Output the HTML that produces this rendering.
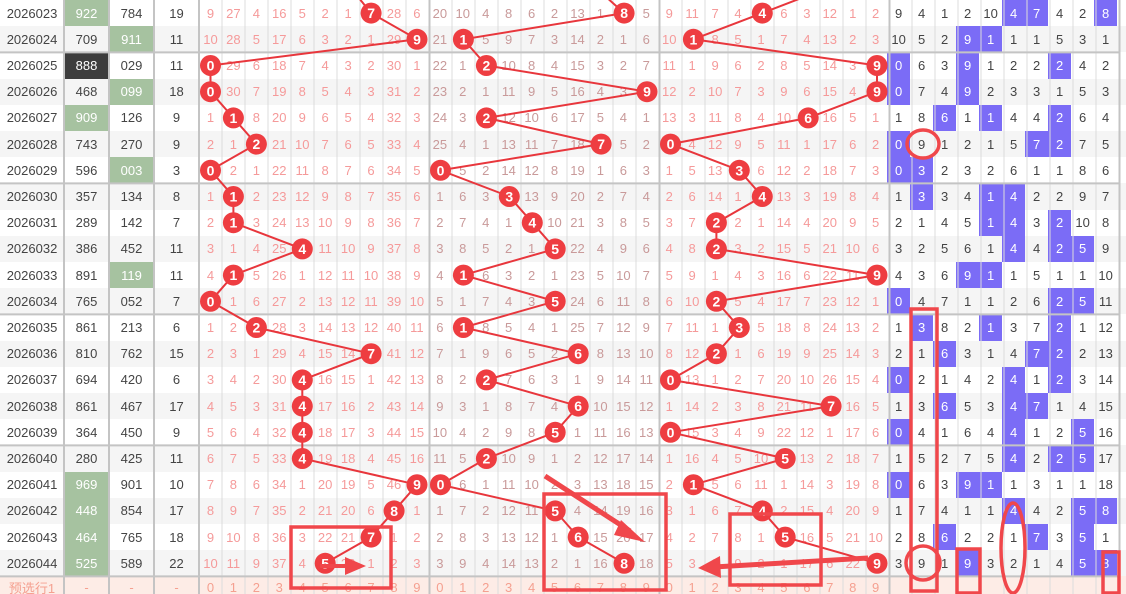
<!DOCTYPE html>
<html><head><meta charset="utf-8"><style>
body{margin:0;background:#fff}
#w{position:relative;width:1126px;height:594px;overflow:hidden;font-family:"Liberation Sans","Noto Sans CJK SC",sans-serif}
.r{position:absolute;left:0;width:1126px;height:26.2px;display:grid;grid-template-columns:64px 45px 45px 45px repeat(30,22.95px) repeat(10,23px)}
.r.o{background:#f5f5f5}
.r>i{font-style:normal;display:flex;align-items:center;justify-content:center;font-size:13px;color:#444;height:26.2px}
.r>i:nth-child(n+5){color:#f59a9a}
.r>i:nth-child(n+15):nth-child(-n+24){color:#c99a9a}
.r>i:nth-child(n+35){color:#444}
.r>i.p{background:#7b6cf6;color:#fff}
.r>i.g{background:#a6c2a0;color:#fff}
.r>i.k{background:#3d3d3d;color:#fff}
.pv{background:#fdece6;height:18px}
.pv>i{height:22px!important;color:#f5a090!important}
svg{position:absolute;left:0;top:0}
</style></head><body><div id="w">
<div class="r" style="top:0px"><i>2026023</i><i class="g">922</i><i>784</i><i>19</i><i>9</i><i>27</i><i>4</i><i>16</i><i>5</i><i>2</i><i>1</i><i></i><i>28</i><i>6</i><i>20</i><i>10</i><i>4</i><i>8</i><i>6</i><i>2</i><i>13</i><i>1</i><i></i><i>5</i><i>9</i><i>11</i><i>7</i><i>4</i><i></i><i>6</i><i>3</i><i>12</i><i>1</i><i>2</i><i>9</i><i>4</i><i>1</i><i>2</i><i>10</i><i class="p">4</i><i class="p">7</i><i>4</i><i>2</i><i class="p">8</i></div>
<div class="r o" style="top:26.2px"><i>2026024</i><i>709</i><i class="g">911</i><i>11</i><i>10</i><i>28</i><i>5</i><i>17</i><i>6</i><i>3</i><i>2</i><i>1</i><i>29</i><i></i><i>21</i><i></i><i>5</i><i>9</i><i>7</i><i>3</i><i>14</i><i>2</i><i>1</i><i>6</i><i>10</i><i></i><i>8</i><i>5</i><i>1</i><i>7</i><i>4</i><i>13</i><i>2</i><i>3</i><i>10</i><i>5</i><i>2</i><i class="p">9</i><i class="p">1</i><i>1</i><i>1</i><i>5</i><i>3</i><i>1</i></div>
<div class="r" style="top:52.4px"><i>2026025</i><i class="k">888</i><i>029</i><i>11</i><i></i><i>29</i><i>6</i><i>18</i><i>7</i><i>4</i><i>3</i><i>2</i><i>30</i><i>1</i><i>22</i><i>1</i><i></i><i>10</i><i>8</i><i>4</i><i>15</i><i>3</i><i>2</i><i>7</i><i>11</i><i>1</i><i>9</i><i>6</i><i>2</i><i>8</i><i>5</i><i>14</i><i>3</i><i></i><i class="p">0</i><i>6</i><i>3</i><i class="p">9</i><i>1</i><i>2</i><i>2</i><i class="p">2</i><i>4</i><i>2</i></div>
<div class="r o" style="top:78.6px"><i>2026026</i><i>468</i><i class="g">099</i><i>18</i><i></i><i>30</i><i>7</i><i>19</i><i>8</i><i>5</i><i>4</i><i>3</i><i>31</i><i>2</i><i>23</i><i>2</i><i>1</i><i>11</i><i>9</i><i>5</i><i>16</i><i>4</i><i>3</i><i></i><i>12</i><i>2</i><i>10</i><i>7</i><i>3</i><i>9</i><i>6</i><i>15</i><i>4</i><i></i><i class="p">0</i><i>7</i><i>4</i><i class="p">9</i><i>2</i><i>3</i><i>3</i><i>1</i><i>5</i><i>3</i></div>
<div class="r" style="top:104.8px"><i>2026027</i><i class="g">909</i><i>126</i><i>9</i><i>1</i><i></i><i>8</i><i>20</i><i>9</i><i>6</i><i>5</i><i>4</i><i>32</i><i>3</i><i>24</i><i>3</i><i></i><i>12</i><i>10</i><i>6</i><i>17</i><i>5</i><i>4</i><i>1</i><i>13</i><i>3</i><i>11</i><i>8</i><i>4</i><i>10</i><i></i><i>16</i><i>5</i><i>1</i><i>1</i><i>8</i><i class="p">6</i><i>1</i><i class="p">1</i><i>4</i><i>4</i><i class="p">2</i><i>6</i><i>4</i></div>
<div class="r o" style="top:131px"><i>2026028</i><i>743</i><i>270</i><i>9</i><i>2</i><i>1</i><i></i><i>21</i><i>10</i><i>7</i><i>6</i><i>5</i><i>33</i><i>4</i><i>25</i><i>4</i><i>1</i><i>13</i><i>11</i><i>7</i><i>18</i><i></i><i>5</i><i>2</i><i></i><i>4</i><i>12</i><i>9</i><i>5</i><i>11</i><i>1</i><i>17</i><i>6</i><i>2</i><i class="p">0</i><i>9</i><i>1</i><i>2</i><i>1</i><i>5</i><i class="p">7</i><i class="p">2</i><i>7</i><i>5</i></div>
<div class="r" style="top:157.2px"><i>2026029</i><i>596</i><i class="g">003</i><i>3</i><i></i><i>2</i><i>1</i><i>22</i><i>11</i><i>8</i><i>7</i><i>6</i><i>34</i><i>5</i><i></i><i>5</i><i>2</i><i>14</i><i>12</i><i>8</i><i>19</i><i>1</i><i>6</i><i>3</i><i>1</i><i>5</i><i>13</i><i></i><i>6</i><i>12</i><i>2</i><i>18</i><i>7</i><i>3</i><i class="p">0</i><i class="p">3</i><i>2</i><i>3</i><i>2</i><i>6</i><i>1</i><i>1</i><i>8</i><i>6</i></div>
<div class="r o" style="top:183.4px"><i>2026030</i><i>357</i><i>134</i><i>8</i><i>1</i><i></i><i>2</i><i>23</i><i>12</i><i>9</i><i>8</i><i>7</i><i>35</i><i>6</i><i>1</i><i>6</i><i>3</i><i></i><i>13</i><i>9</i><i>20</i><i>2</i><i>7</i><i>4</i><i>2</i><i>6</i><i>14</i><i>1</i><i></i><i>13</i><i>3</i><i>19</i><i>8</i><i>4</i><i>1</i><i class="p">3</i><i>3</i><i>4</i><i class="p">1</i><i class="p">4</i><i>2</i><i>2</i><i>9</i><i>7</i></div>
<div class="r" style="top:209.6px"><i>2026031</i><i>289</i><i>142</i><i>7</i><i>2</i><i></i><i>3</i><i>24</i><i>13</i><i>10</i><i>9</i><i>8</i><i>36</i><i>7</i><i>2</i><i>7</i><i>4</i><i>1</i><i></i><i>10</i><i>21</i><i>3</i><i>8</i><i>5</i><i>3</i><i>7</i><i></i><i>2</i><i>1</i><i>14</i><i>4</i><i>20</i><i>9</i><i>5</i><i>2</i><i>1</i><i>4</i><i>5</i><i class="p">1</i><i class="p">4</i><i>3</i><i class="p">2</i><i>10</i><i>8</i></div>
<div class="r o" style="top:235.8px"><i>2026032</i><i>386</i><i>452</i><i>11</i><i>3</i><i>1</i><i>4</i><i>25</i><i></i><i>11</i><i>10</i><i>9</i><i>37</i><i>8</i><i>3</i><i>8</i><i>5</i><i>2</i><i>1</i><i></i><i>22</i><i>4</i><i>9</i><i>6</i><i>4</i><i>8</i><i></i><i>3</i><i>2</i><i>15</i><i>5</i><i>21</i><i>10</i><i>6</i><i>3</i><i>2</i><i>5</i><i>6</i><i>1</i><i class="p">4</i><i>4</i><i class="p">2</i><i class="p">5</i><i>9</i></div>
<div class="r" style="top:262px"><i>2026033</i><i>891</i><i class="g">119</i><i>11</i><i>4</i><i></i><i>5</i><i>26</i><i>1</i><i>12</i><i>11</i><i>10</i><i>38</i><i>9</i><i>4</i><i></i><i>6</i><i>3</i><i>2</i><i>1</i><i>23</i><i>5</i><i>10</i><i>7</i><i>5</i><i>9</i><i>1</i><i>4</i><i>3</i><i>16</i><i>6</i><i>22</i><i>11</i><i></i><i>4</i><i>3</i><i>6</i><i class="p">9</i><i class="p">1</i><i>1</i><i>5</i><i>1</i><i>1</i><i>10</i></div>
<div class="r o" style="top:288.2px"><i>2026034</i><i>765</i><i>052</i><i>7</i><i></i><i>1</i><i>6</i><i>27</i><i>2</i><i>13</i><i>12</i><i>11</i><i>39</i><i>10</i><i>5</i><i>1</i><i>7</i><i>4</i><i>3</i><i></i><i>24</i><i>6</i><i>11</i><i>8</i><i>6</i><i>10</i><i></i><i>5</i><i>4</i><i>17</i><i>7</i><i>23</i><i>12</i><i>1</i><i class="p">0</i><i>4</i><i>7</i><i>1</i><i>1</i><i>2</i><i>6</i><i class="p">2</i><i class="p">5</i><i>11</i></div>
<div class="r" style="top:314.4px"><i>2026035</i><i>861</i><i>213</i><i>6</i><i>1</i><i>2</i><i></i><i>28</i><i>3</i><i>14</i><i>13</i><i>12</i><i>40</i><i>11</i><i>6</i><i></i><i>8</i><i>5</i><i>4</i><i>1</i><i>25</i><i>7</i><i>12</i><i>9</i><i>7</i><i>11</i><i>1</i><i></i><i>5</i><i>18</i><i>8</i><i>24</i><i>13</i><i>2</i><i>1</i><i class="p">3</i><i>8</i><i>2</i><i class="p">1</i><i>3</i><i>7</i><i class="p">2</i><i>1</i><i>12</i></div>
<div class="r o" style="top:340.6px"><i>2026036</i><i>810</i><i>762</i><i>15</i><i>2</i><i>3</i><i>1</i><i>29</i><i>4</i><i>15</i><i>14</i><i></i><i>41</i><i>12</i><i>7</i><i>1</i><i>9</i><i>6</i><i>5</i><i>2</i><i></i><i>8</i><i>13</i><i>10</i><i>8</i><i>12</i><i></i><i>1</i><i>6</i><i>19</i><i>9</i><i>25</i><i>14</i><i>3</i><i>2</i><i>1</i><i class="p">6</i><i>3</i><i>1</i><i>4</i><i class="p">7</i><i class="p">2</i><i>2</i><i>13</i></div>
<div class="r" style="top:366.8px"><i>2026037</i><i>694</i><i>420</i><i>6</i><i>3</i><i>4</i><i>2</i><i>30</i><i></i><i>16</i><i>15</i><i>1</i><i>42</i><i>13</i><i>8</i><i>2</i><i></i><i>7</i><i>6</i><i>3</i><i>1</i><i>9</i><i>14</i><i>11</i><i></i><i>13</i><i>1</i><i>2</i><i>7</i><i>20</i><i>10</i><i>26</i><i>15</i><i>4</i><i class="p">0</i><i>2</i><i>1</i><i>4</i><i>2</i><i class="p">4</i><i>1</i><i class="p">2</i><i>3</i><i>14</i></div>
<div class="r o" style="top:393px"><i>2026038</i><i>861</i><i>467</i><i>17</i><i>4</i><i>5</i><i>3</i><i>31</i><i></i><i>17</i><i>16</i><i>2</i><i>43</i><i>14</i><i>9</i><i>3</i><i>1</i><i>8</i><i>7</i><i>4</i><i></i><i>10</i><i>15</i><i>12</i><i>1</i><i>14</i><i>2</i><i>3</i><i>8</i><i>21</i><i>11</i><i></i><i>16</i><i>5</i><i>1</i><i>3</i><i class="p">6</i><i>5</i><i>3</i><i class="p">4</i><i class="p">7</i><i>1</i><i>4</i><i>15</i></div>
<div class="r" style="top:419.2px"><i>2026039</i><i>364</i><i>450</i><i>9</i><i>5</i><i>6</i><i>4</i><i>32</i><i></i><i>18</i><i>17</i><i>3</i><i>44</i><i>15</i><i>10</i><i>4</i><i>2</i><i>9</i><i>8</i><i></i><i>1</i><i>11</i><i>16</i><i>13</i><i></i><i>15</i><i>3</i><i>4</i><i>9</i><i>22</i><i>12</i><i>1</i><i>17</i><i>6</i><i class="p">0</i><i>4</i><i>1</i><i>6</i><i>4</i><i class="p">4</i><i>1</i><i>2</i><i class="p">5</i><i>16</i></div>
<div class="r o" style="top:445.4px"><i>2026040</i><i>280</i><i>425</i><i>11</i><i>6</i><i>7</i><i>5</i><i>33</i><i></i><i>19</i><i>18</i><i>4</i><i>45</i><i>16</i><i>11</i><i>5</i><i></i><i>10</i><i>9</i><i>1</i><i>2</i><i>12</i><i>17</i><i>14</i><i>1</i><i>16</i><i>4</i><i>5</i><i>10</i><i></i><i>13</i><i>2</i><i>18</i><i>7</i><i>1</i><i>5</i><i>2</i><i>7</i><i>5</i><i class="p">4</i><i>2</i><i class="p">2</i><i class="p">5</i><i>17</i></div>
<div class="r" style="top:471.6px"><i>2026041</i><i class="g">969</i><i>901</i><i>10</i><i>7</i><i>8</i><i>6</i><i>34</i><i>1</i><i>20</i><i>19</i><i>5</i><i>46</i><i></i><i></i><i>6</i><i>1</i><i>11</i><i>10</i><i>2</i><i>3</i><i>13</i><i>18</i><i>15</i><i>2</i><i></i><i>5</i><i>6</i><i>11</i><i>1</i><i>14</i><i>3</i><i>19</i><i>8</i><i class="p">0</i><i>6</i><i>3</i><i class="p">9</i><i class="p">1</i><i>1</i><i>3</i><i>1</i><i>1</i><i>18</i></div>
<div class="r o" style="top:497.8px"><i>2026042</i><i class="g">448</i><i>854</i><i>17</i><i>8</i><i>9</i><i>7</i><i>35</i><i>2</i><i>21</i><i>20</i><i>6</i><i></i><i>1</i><i>1</i><i>7</i><i>2</i><i>12</i><i>11</i><i></i><i>4</i><i>14</i><i>19</i><i>16</i><i>3</i><i>1</i><i>6</i><i>7</i><i></i><i>2</i><i>15</i><i>4</i><i>20</i><i>9</i><i>1</i><i>7</i><i>4</i><i>1</i><i>1</i><i class="p">4</i><i>4</i><i>2</i><i class="p">5</i><i class="p">8</i></div>
<div class="r" style="top:524px"><i>2026043</i><i class="g">464</i><i>765</i><i>18</i><i>9</i><i>10</i><i>8</i><i>36</i><i>3</i><i>22</i><i>21</i><i></i><i>1</i><i>2</i><i>2</i><i>8</i><i>3</i><i>13</i><i>12</i><i>1</i><i></i><i>15</i><i>20</i><i>17</i><i>4</i><i>2</i><i>7</i><i>8</i><i>1</i><i></i><i>16</i><i>5</i><i>21</i><i>10</i><i>2</i><i>8</i><i class="p">6</i><i>2</i><i>2</i><i>1</i><i class="p">7</i><i>3</i><i class="p">5</i><i>1</i></div>
<div class="r o" style="top:550.2px"><i>2026044</i><i class="g">525</i><i>589</i><i>22</i><i>10</i><i>11</i><i>9</i><i>37</i><i>4</i><i></i><i>22</i><i>1</i><i>2</i><i>3</i><i>3</i><i>9</i><i>4</i><i>14</i><i>13</i><i>2</i><i>1</i><i>16</i><i></i><i>18</i><i>5</i><i>3</i><i>8</i><i>9</i><i>2</i><i>1</i><i>17</i><i>6</i><i>22</i><i></i><i>3</i><i>9</i><i>1</i><i class="p">9</i><i>3</i><i>2</i><i>1</i><i>4</i><i class="p">5</i><i class="p">8</i></div>
<div class="r pv" style="top:576.4px"><i>预选行1</i><i>-</i><i>-</i><i>-</i><i>0</i><i>1</i><i>2</i><i>3</i><i>4</i><i>5</i><i>6</i><i>7</i><i>8</i><i>9</i><i>0</i><i>1</i><i>2</i><i>3</i><i>4</i><i>5</i><i>6</i><i>7</i><i>8</i><i>9</i><i>0</i><i>1</i><i>2</i><i>3</i><i>4</i><i>5</i><i>6</i><i>7</i><i>8</i><i>9</i><i></i><i></i><i></i><i></i><i></i><i></i><i></i><i></i><i></i><i></i></div>
<svg width="1126" height="594">
<g stroke="#dcdcdc" stroke-width="1">
<path d="M222 0V594M245 0V594M268 0V594M291 0V594M314 0V594M337 0V594M360 0V594M383 0V594M406 0V594M452 0V594M475 0V594M498 0V594M521 0V594M544 0V594M567 0V594M590 0V594M613 0V594M636 0V594M682 0V594M705 0V594M728 0V594M751 0V594M774 0V594M797 0V594M820 0V594M843 0V594M866 0V594M912 0V594M935 0V594M958 0V594M981 0V594M1004 0V594M1027 0V594M1050 0V594M1073 0V594M1096 0V594"/>
</g>
<g stroke="#c4c4c4" stroke-width="2">
<path d="M64 0V594M109 0V594M154 0V594M199 0V594M429.5 0V594M659.5 0V594M889.5 0V594M1119.5 0V594"/>
<path d="M0 52.4H1120M0 183.4H1120M0 314.4H1120M0 445.4H1120M0 576.4H1120"/>
</g>
<g fill="none" stroke="#e8363c" stroke-width="2">
<polyline points="350,-13 371.1,13.1 417,39.3 210.5,65.5 210.5,91.7 233.4,117.9 256.4,144.1 210.5,170.3 233.4,196.5 233.4,222.7 302.3,248.9 233.4,275.1 210.5,301.3 256.4,327.5 371.1,353.7 302.3,379.9 302.3,406.1 302.3,432.3 302.3,458.5 417,484.7 394.1,510.9 371.1,537.1 325.2,563.3"/>
<polyline points="595,-13 624.1,13.1 463.4,39.3 486.4,65.5 647,91.7 486.4,117.9 601.1,144.1 440.5,170.3 509.3,196.5 532.3,222.7 555.2,248.9 463.4,275.1 555.2,301.3 463.4,327.5 578.2,353.7 486.4,379.9 578.2,406.1 555.2,432.3 486.4,458.5 440.5,484.7 555.2,510.9 578.2,537.1 624.1,563.3"/>
<polyline points="830,-13 762.3,13.1 693.4,39.3 877,65.5 877,91.7 808.2,117.9 670.5,144.1 739.3,170.3 762.3,196.5 716.4,222.7 716.4,248.9 877,275.1 716.4,301.3 739.3,327.5 716.4,353.7 670.5,379.9 831.1,406.1 670.5,432.3 785.2,458.5 693.4,484.7 762.3,510.9 785.2,537.1 877,563.3"/>
</g>
<g fill="#ee3d41">
<circle cx="371.1" cy="13.1" r="10.5"/><circle cx="417" cy="39.3" r="10.5"/><circle cx="210.5" cy="65.5" r="10.5"/><circle cx="210.5" cy="91.7" r="10.5"/><circle cx="233.4" cy="117.9" r="10.5"/><circle cx="256.4" cy="144.1" r="10.5"/><circle cx="210.5" cy="170.3" r="10.5"/><circle cx="233.4" cy="196.5" r="10.5"/><circle cx="233.4" cy="222.7" r="10.5"/><circle cx="302.3" cy="248.9" r="10.5"/><circle cx="233.4" cy="275.1" r="10.5"/><circle cx="210.5" cy="301.3" r="10.5"/><circle cx="256.4" cy="327.5" r="10.5"/><circle cx="371.1" cy="353.7" r="10.5"/><circle cx="302.3" cy="379.9" r="10.5"/><circle cx="302.3" cy="406.1" r="10.5"/><circle cx="302.3" cy="432.3" r="10.5"/><circle cx="302.3" cy="458.5" r="10.5"/><circle cx="417" cy="484.7" r="10.5"/><circle cx="394.1" cy="510.9" r="10.5"/><circle cx="371.1" cy="537.1" r="10.5"/><circle cx="325.2" cy="563.3" r="10.5"/>
<circle cx="624.1" cy="13.1" r="10.5"/><circle cx="463.4" cy="39.3" r="10.5"/><circle cx="486.4" cy="65.5" r="10.5"/><circle cx="647" cy="91.7" r="10.5"/><circle cx="486.4" cy="117.9" r="10.5"/><circle cx="601.1" cy="144.1" r="10.5"/><circle cx="440.5" cy="170.3" r="10.5"/><circle cx="509.3" cy="196.5" r="10.5"/><circle cx="532.3" cy="222.7" r="10.5"/><circle cx="555.2" cy="248.9" r="10.5"/><circle cx="463.4" cy="275.1" r="10.5"/><circle cx="555.2" cy="301.3" r="10.5"/><circle cx="463.4" cy="327.5" r="10.5"/><circle cx="578.2" cy="353.7" r="10.5"/><circle cx="486.4" cy="379.9" r="10.5"/><circle cx="578.2" cy="406.1" r="10.5"/><circle cx="555.2" cy="432.3" r="10.5"/><circle cx="486.4" cy="458.5" r="10.5"/><circle cx="440.5" cy="484.7" r="10.5"/><circle cx="555.2" cy="510.9" r="10.5"/><circle cx="578.2" cy="537.1" r="10.5"/><circle cx="624.1" cy="563.3" r="10.5"/>
<circle cx="762.3" cy="13.1" r="10.5"/><circle cx="693.4" cy="39.3" r="10.5"/><circle cx="877" cy="65.5" r="10.5"/><circle cx="877" cy="91.7" r="10.5"/><circle cx="808.2" cy="117.9" r="10.5"/><circle cx="670.5" cy="144.1" r="10.5"/><circle cx="739.3" cy="170.3" r="10.5"/><circle cx="762.3" cy="196.5" r="10.5"/><circle cx="716.4" cy="222.7" r="10.5"/><circle cx="716.4" cy="248.9" r="10.5"/><circle cx="877" cy="275.1" r="10.5"/><circle cx="716.4" cy="301.3" r="10.5"/><circle cx="739.3" cy="327.5" r="10.5"/><circle cx="716.4" cy="353.7" r="10.5"/><circle cx="670.5" cy="379.9" r="10.5"/><circle cx="831.1" cy="406.1" r="10.5"/><circle cx="670.5" cy="432.3" r="10.5"/><circle cx="785.2" cy="458.5" r="10.5"/><circle cx="693.4" cy="484.7" r="10.5"/><circle cx="762.3" cy="510.9" r="10.5"/><circle cx="785.2" cy="537.1" r="10.5"/><circle cx="877" cy="563.3" r="10.5"/>
</g>
<g fill="#fff" font-size="14" font-weight="bold" text-anchor="middle" font-family="Liberation Sans, sans-serif">
<text x="371.1" y="18.1">7</text><text x="417" y="44.3">9</text><text x="210.5" y="70.5">0</text><text x="210.5" y="96.7">0</text><text x="233.4" y="122.9">1</text><text x="256.4" y="149.1">2</text><text x="210.5" y="175.3">0</text><text x="233.4" y="201.5">1</text><text x="233.4" y="227.7">1</text><text x="302.3" y="253.9">4</text><text x="233.4" y="280.1">1</text><text x="210.5" y="306.3">0</text><text x="256.4" y="332.5">2</text><text x="371.1" y="358.7">7</text><text x="302.3" y="384.9">4</text><text x="302.3" y="411.1">4</text><text x="302.3" y="437.3">4</text><text x="302.3" y="463.5">4</text><text x="417" y="489.7">9</text><text x="394.1" y="515.9">8</text><text x="371.1" y="542.1">7</text><text x="325.2" y="568.3">5</text>
<text x="624.1" y="18.1">8</text><text x="463.4" y="44.3">1</text><text x="486.4" y="70.5">2</text><text x="647" y="96.7">9</text><text x="486.4" y="122.9">2</text><text x="601.1" y="149.1">7</text><text x="440.5" y="175.3">0</text><text x="509.3" y="201.5">3</text><text x="532.3" y="227.7">4</text><text x="555.2" y="253.9">5</text><text x="463.4" y="280.1">1</text><text x="555.2" y="306.3">5</text><text x="463.4" y="332.5">1</text><text x="578.2" y="358.7">6</text><text x="486.4" y="384.9">2</text><text x="578.2" y="411.1">6</text><text x="555.2" y="437.3">5</text><text x="486.4" y="463.5">2</text><text x="440.5" y="489.7">0</text><text x="555.2" y="515.9">5</text><text x="578.2" y="542.1">6</text><text x="624.1" y="568.3">8</text>
<text x="762.3" y="18.1">4</text><text x="693.4" y="44.3">1</text><text x="877" y="70.5">9</text><text x="877" y="96.7">9</text><text x="808.2" y="122.9">6</text><text x="670.5" y="149.1">0</text><text x="739.3" y="175.3">3</text><text x="762.3" y="201.5">4</text><text x="716.4" y="227.7">2</text><text x="716.4" y="253.9">2</text><text x="877" y="280.1">9</text><text x="716.4" y="306.3">2</text><text x="739.3" y="332.5">3</text><text x="716.4" y="358.7">2</text><text x="670.5" y="384.9">0</text><text x="831.1" y="411.1">7</text><text x="670.5" y="437.3">0</text><text x="785.2" y="463.5">5</text><text x="693.4" y="489.7">1</text><text x="762.3" y="515.9">4</text><text x="785.2" y="542.1">5</text><text x="877" y="568.3">9</text>
</g>
<g fill="none" stroke="#f0474b" stroke-width="3.5">
<rect x="291" y="527" width="100" height="61"/>
<rect x="544" y="494" width="122" height="96"/>
<rect x="730" y="514" width="91" height="71"/>
<ellipse cx="923" cy="144" rx="16" ry="14"/>
<rect x="911" y="309" width="26" height="282"/>
<circle cx="923" cy="563" r="17"/>
<rect x="957" y="549" width="23" height="44"/>
<ellipse cx="1013" cy="548" rx="12" ry="45"/>
<rect x="1103" y="552" width="16" height="41"/>
</g>
<g fill="#f0474b" stroke="#f0474b">
<line x1="320" y1="566" x2="350" y2="566" stroke-width="4"/><polygon points="345,557 366,566 345,575" stroke="none"/>
<line x1="545" y1="476" x2="630" y2="531" stroke-width="5"/><polygon points="621,520 645,542 614,535" stroke="none"/>
<line x1="868" y1="558" x2="714" y2="567" stroke-width="5"/><polygon points="720,556 698,568 721,578" stroke="none"/>
</g>
</svg>
</div></body></html>
